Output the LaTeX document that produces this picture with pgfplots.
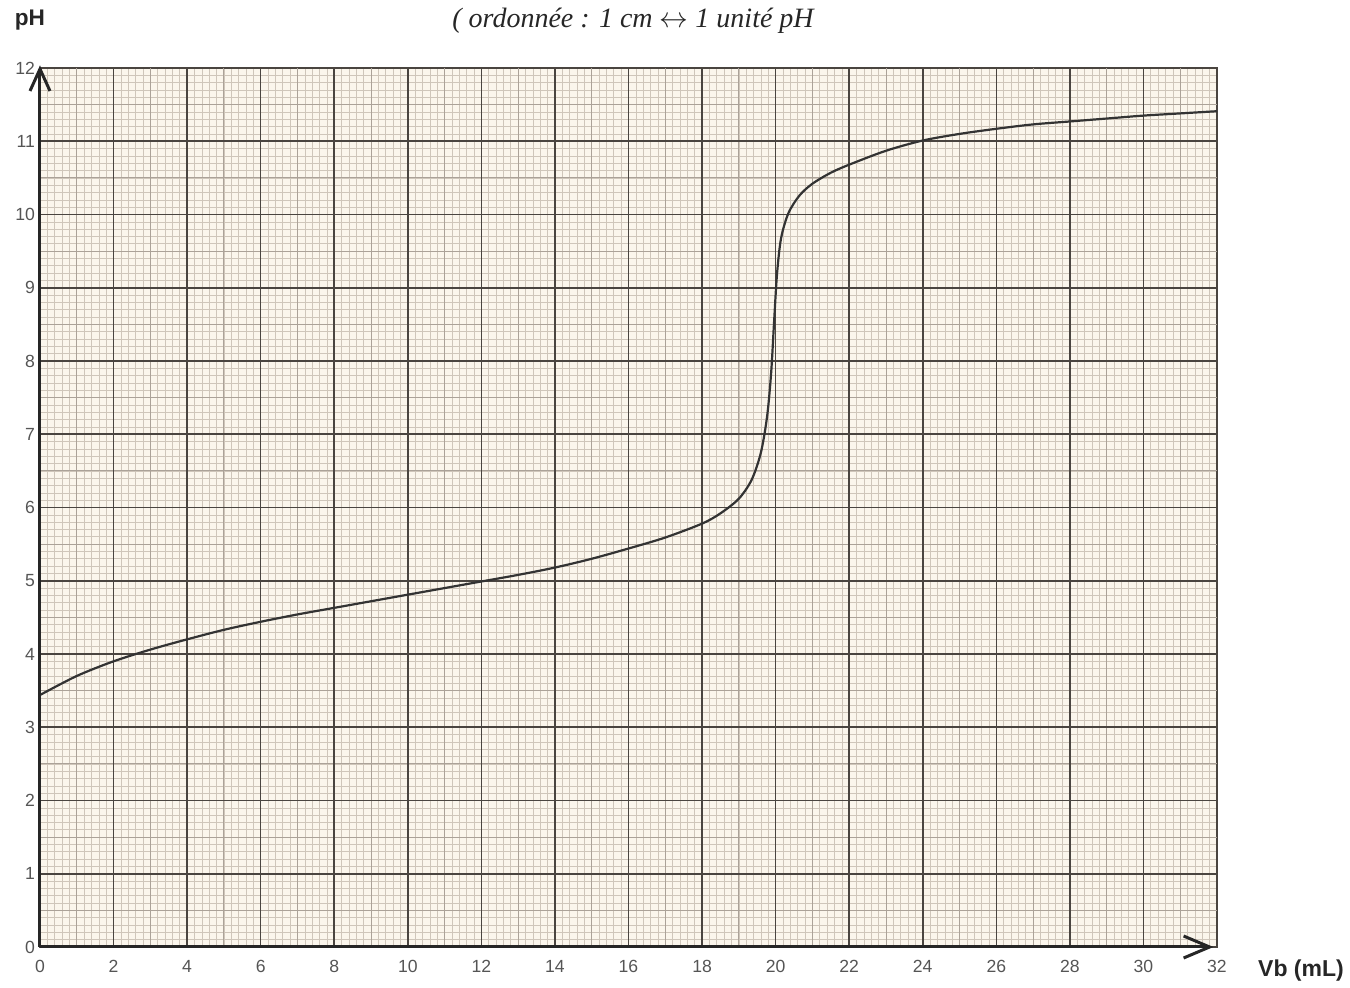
\documentclass[border=0pt]{standalone}
\usepackage{fontspec}
\setmainfont{Liberation Sans}
\newfontfamily\serifit{Liberation Serif}
\usepackage{pgfplots}
\pgfplotsset{compat=1.18}
\usetikzlibrary{arrows.meta}
\definecolor{paper}{HTML}{FBF6EC}
\definecolor{minorg}{HTML}{CFC6BA}
\definecolor{medg}{HTML}{ABA298}
\definecolor{majorg}{HTML}{4A4540}
\definecolor{curve}{HTML}{333333}
\definecolor{lab}{HTML}{555555}
\begin{document}
\begin{tikzpicture}
\begin{axis}[
  scale only axis,
  width=588.5pt, height=439.5pt,
  xmin=0, xmax=32, ymin=0, ymax=12,
  xtick={0,2,...,32}, ytick={0,1,...,12},
  minor x tick num=9, minor y tick num=9,
  grid=minor,
  minor grid style={minorg, line width=0.3pt},
  extra x ticks={1,3,...,31}, extra y ticks={0.5,1.5,...,11.5},
  extra tick style={grid=major, major grid style={medg, line width=0.45pt}, major tick length=0pt},
  extra x tick labels={}, extra y tick labels={},
  major tick length=0pt, minor tick length=0pt,
  axis line style={majorg, line width=0.9pt},
  axis background/.style={fill=paper},
  /pgf/number format/assume math mode=true,
  tick label style={font=\fontsize{8.8}{10}\selectfont, text=lab},
  xticklabel style={yshift=-3pt},
  yticklabel style={xshift=1pt},
  clip=false,
]
\pgfplotsinvokeforeach{2,4,...,30}{\draw[majorg, line width=0.8pt] (axis cs:#1,0) -- (axis cs:#1,12);}
\pgfplotsinvokeforeach{1,2,...,11}{\draw[majorg, line width=0.8pt] (axis cs:0,#1) -- (axis cs:32,#1);}
\addplot[curve, line width=1.1pt, smooth, tension=0.5] coordinates {
(0,3.44) (1,3.70) (2,3.90) (3,4.06) (4,4.20) (5,4.33) (6,4.44) (7,4.54) (8,4.63) (9,4.72)
(10,4.81) (11,4.90) (12,4.99) (13,5.08) (14,5.18) (15,5.30) (16,5.44) (17,5.59) (18,5.78)
(18.5,5.92) (19,6.12) (19.35,6.38) (19.6,6.75) (19.77,7.25) (19.88,7.85) (19.96,8.55)
(20.04,9.2) (20.15,9.68) (20.35,10.02) (20.65,10.26) (21.0,10.42) (21.5,10.57) (22,10.68) (23,10.87)
(24,11.01) (25,11.10) (26,11.17) (27,11.23) (28,11.27) (29,11.31) (30,11.35) (31,11.38) (32,11.41)
};
\draw[black!85, line width=1.5pt, -{Straight Barb[length=11pt, width=10pt, line width=1.5pt]}] (rel axis cs:0,0) -- (rel axis cs:0,1.003);
\draw[black!85, line width=1.5pt, -{Straight Barb[length=13pt, width=11pt, line width=1.5pt]}] (rel axis cs:0,0) -- (rel axis cs:0.997,0);
\node[font=\bfseries\fontsize{11.3}{13}\selectfont, text=black!85] at (rel axis cs:-0.0085,1.0546) {pH};
\node[font=\bfseries\fontsize{11.5}{13}\selectfont, text=black!85] at (rel axis cs:1.0714,-0.0273) {Vb (mL)};
\node[anchor=north west, inner sep=0pt, font=\serifit\itshape\fontsize{14}{16}\selectfont, text=black!85] at (rel axis cs:0.350,1.0690) {( ordonnée : 1 cm $\leftrightarrow$ 1 unité pH};
\coordinate (bbll) at (rel axis cs:-0.03398,-0.04551);
\coordinate (bbur) at (rel axis cs:1.11300,1.07736);
\end{axis}
\pgfresetboundingbox
\path (bbll) rectangle (bbur);
\end{tikzpicture}
\end{document}
